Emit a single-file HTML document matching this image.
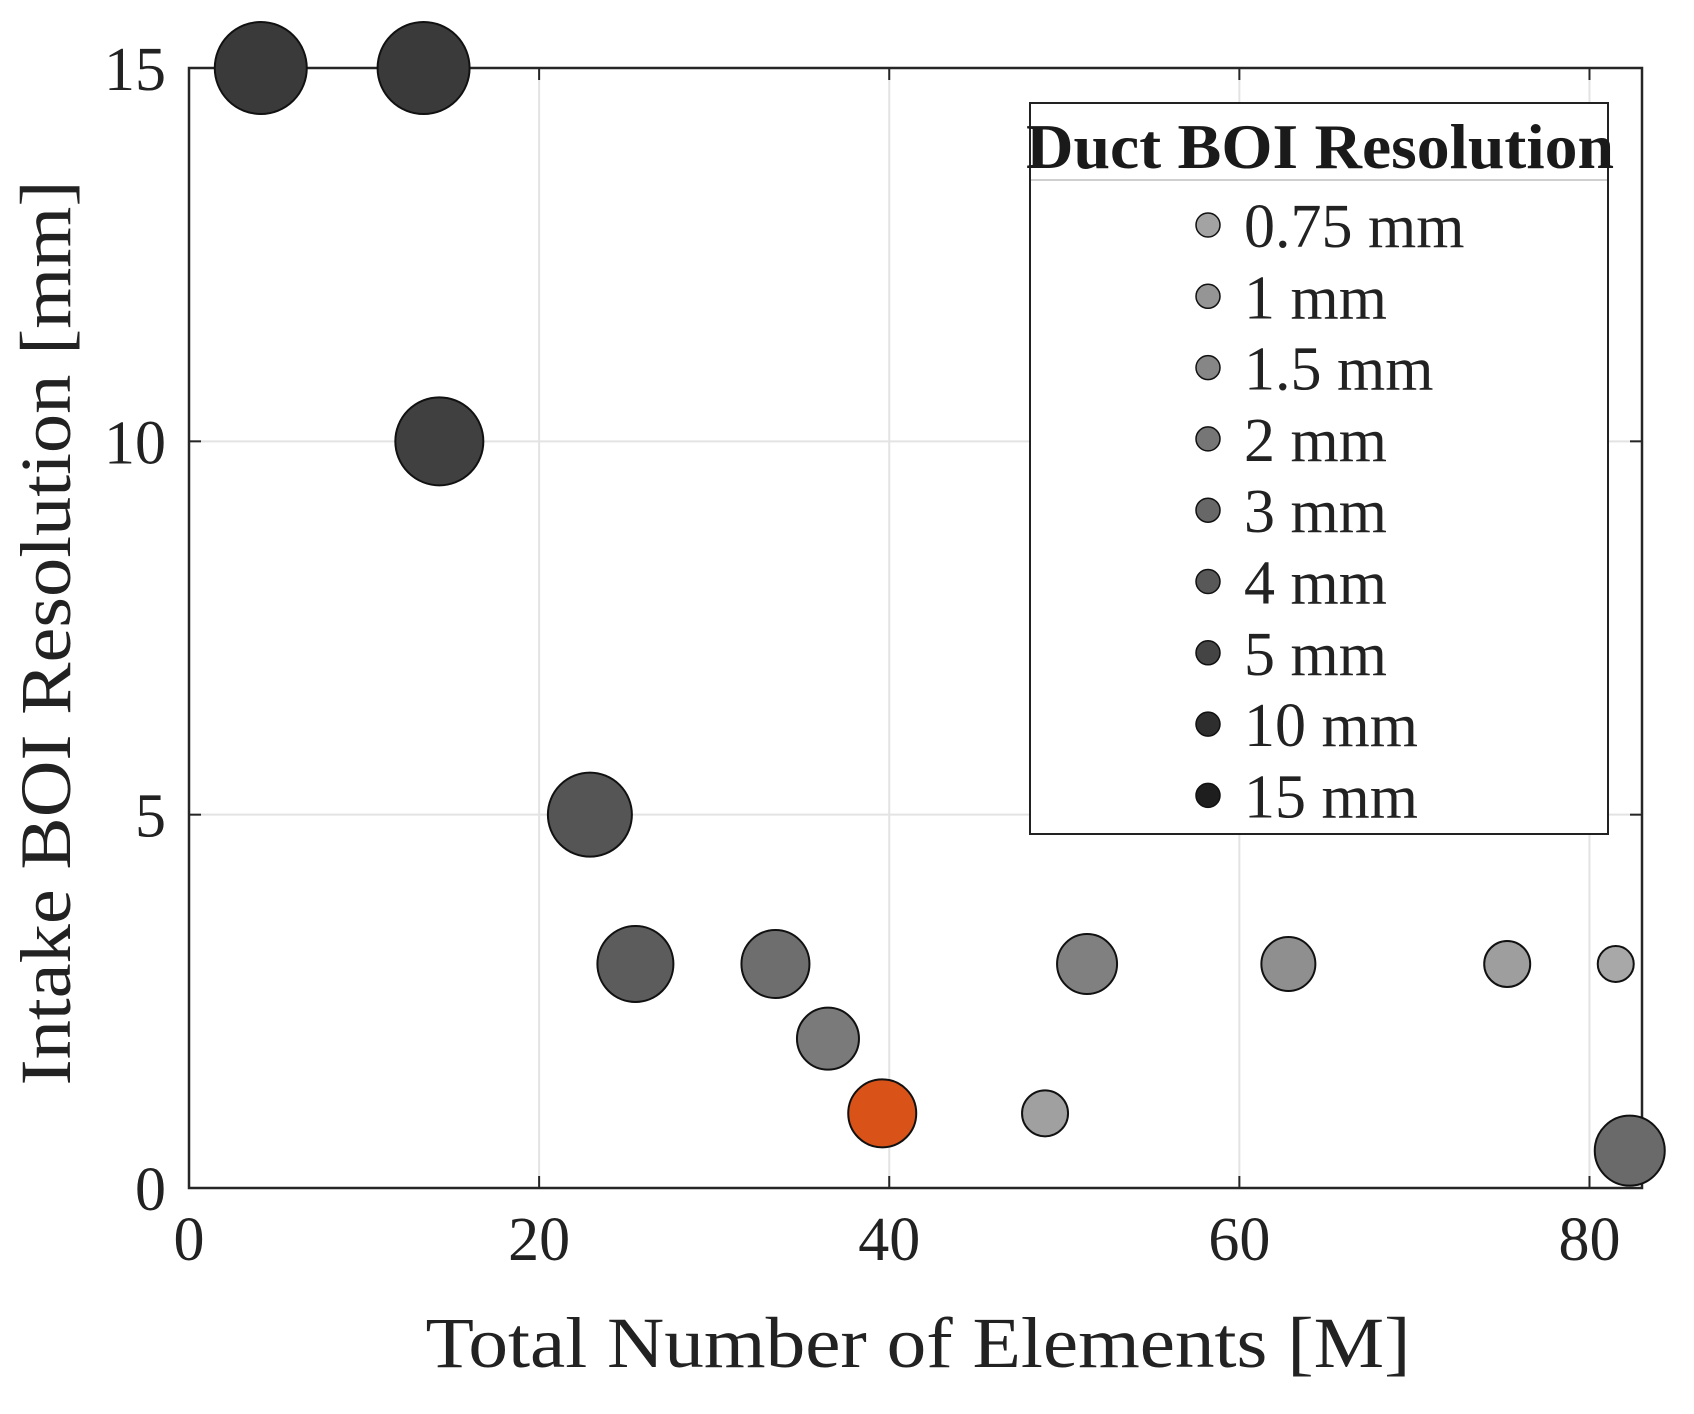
<!DOCTYPE html>
<html><head><meta charset="utf-8"><style>
html,body{margin:0;padding:0;background:#fff;}
svg{display:block;font-family:"Liberation Serif",serif;}
</style></head><body>
<svg id="chart" width="1694" height="1414" viewBox="0 0 1694 1414">
<g id="grid"></g>
<g id="axes"></g>
<g id="points"></g>
<g id="legend"></g>
<text x="918" y="1367" font-size="72" text-anchor="middle" fill="#222" textLength="985" lengthAdjust="spacingAndGlyphs">Total Number of Elements [M]</text>
<text transform="translate(70,633) rotate(-90)" font-size="72" text-anchor="middle" fill="#222" textLength="905" lengthAdjust="spacingAndGlyphs">Intake BOI Resolution [mm]</text>
</svg>
<script>
const xTicks = [0, 20, 40, 60, 80];
const yTicks = [0, 5, 10, 15];
const xVals = [4.1, 13.4, 14.3, 22.9, 25.5, 33.5, 36.5, 39.6, 48.9, 51.3, 62.8, 75.3, 81.5, 82.3];
const yVals = [15, 15, 10, 5, 3, 3, 2, 1, 1, 3, 3, 3, 3, 0.5];
const sizes = [46, 46, 44, 42, 38, 34, 31, 34, 23, 30, 27, 23, 18, 35];
const fills = ["#3a3a3a","#3a3a3a","#404040","#555555","#5c5c5c","#6e6e6e","#7a7a7a","#d95319","#a0a0a0","#808080","#8f8f8f","#9e9e9e","#a8a8a8","#6a6a6a"];
const legendLabels = ["0.75 mm","1 mm","1.5 mm","2 mm","3 mm","4 mm","5 mm","10 mm","15 mm"];
const legendFills = ["#a3a3a3","#959595","#868686","#767676","#676767","#585858","#444444","#2e2e2e","#1e1e1e"];

const NS = "http://www.w3.org/2000/svg";
const L = 189, R = 1642, T = 68, B = 1188, XMAX = 83, YMAX = 15;
const xs = v => L + (v / XMAX) * (R - L);
const ys = v => B - (v / YMAX) * (B - T);
function mk(tag, attrs, parent) {
  const e = document.createElementNS(NS, tag);
  for (const k in attrs) e.setAttribute(k, attrs[k]);
  parent.appendChild(e);
  return e;
}
const grid = document.getElementById('grid');
const axes = document.getElementById('axes');
xTicks.forEach(t => {
  if (t > 0) {
    const g = mk('line', {x1: xs(t), x2: xs(t), y1: T, y2: B, stroke: '#e3e3e3', 'stroke-width': 2}, grid);
    
    
  }
  mk('line', {x1: xs(t), x2: xs(t), y1: B, y2: B - 12, stroke: '#262626', 'stroke-width': 2}, axes);
  mk('line', {x1: xs(t), x2: xs(t), y1: T, y2: T + 12, stroke: '#262626', 'stroke-width': 2}, axes);
  const tx = mk('text', {x: xs(t), y: 1260, 'font-size': 62, 'text-anchor': 'middle', fill: '#222'}, axes);
  tx.textContent = t;
  
  
});
yTicks.forEach(t => {
  if (t > 0 && t < 15) {
    const g = mk('line', {x1: L, x2: R, y1: ys(t), y2: ys(t), stroke: '#e3e3e3', 'stroke-width': 2}, grid);
    
    
  }
  mk('line', {x1: L, x2: L + 12, y1: ys(t), y2: ys(t), stroke: '#262626', 'stroke-width': 2}, axes);
  mk('line', {x1: R, x2: R - 12, y1: ys(t), y2: ys(t), stroke: '#262626', 'stroke-width': 2}, axes);
  const tx = mk('text', {x: 166, y: ys(t) + 22, 'font-size': 62, 'text-anchor': 'end', fill: '#222'}, axes);
  tx.textContent = t;
  
  
});
const box = mk('rect', {x: L, y: T, width: R - L, height: B - T, fill: 'none', stroke: '#262626', 'stroke-width': 2.5}, axes);



const pts = document.getElementById('points');
xVals.forEach((v, i) => {
  const c = mk('circle', {cx: xs(v), cy: ys(yVals[i]), r: sizes[i], fill: fills[i], stroke: '#111', 'stroke-width': 2}, pts);
  
  
});

const leg = document.getElementById('legend');
const lb = mk('rect', {x: 1030, y: 103, width: 578, height: 731, fill: '#fff', stroke: '#222', 'stroke-width': 2}, leg);


const lt = mk('text', {x: 1320, y: 168, 'font-size': 64, 'font-weight': 'bold', 'text-anchor': 'middle', fill: '#1a1a1a', textLength: 588, lengthAdjust: 'spacingAndGlyphs'}, leg);
lt.textContent = 'Duct BOI Resolution';


mk('line', {x1: 1031, x2: 1607, y1: 180, y2: 180, stroke: '#cfcfcf', 'stroke-width': 2}, leg);
legendLabels.forEach((lab, i) => {
  const cy = 225 + i * 71.3;
  const m = mk('circle', {cx: 1208, cy: cy, r: 12, fill: legendFills[i], stroke: '#111', 'stroke-width': 1.5}, leg);
  
  
  const t = mk('text', {x: 1244, y: cy + 22, 'font-size': 62, fill: '#222'}, leg);
  t.textContent = lab;
  
  
});
</script>
</body></html>
